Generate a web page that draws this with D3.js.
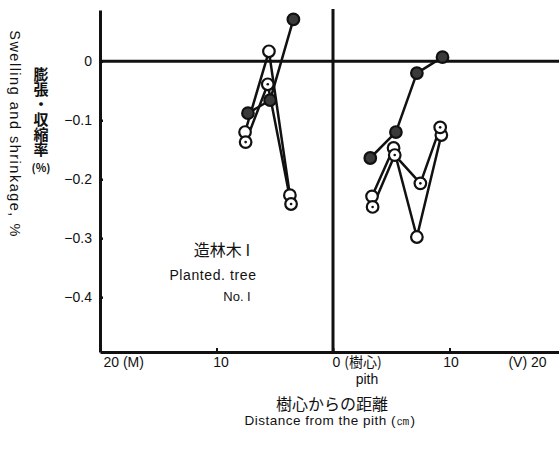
<!DOCTYPE html>
<html>
<head>
<meta charset="utf-8">
<script src="https://cdn.jsdelivr.net/npm/d3@7"></script>
<style>
  body { margin: 0; background: #fff; }
  text { font-family: "Liberation Sans", Arial, sans-serif; fill: #111; }
  .jp { font-family: "Noto Sans CJK JP", sans-serif; }
</style>
</head>
<body>
<div id="chart"></div>
<script>
// distance from pith (cm); M side is drawn to the left, V side to the right
const mDistFilled = [7.3, 5.4, 3.4];
const mDistOpen   = [7.55, 5.5, 3.7];
const mDistDotted = [7.5, 5.6, 3.6];
const mFilled = [-0.088, -0.066, 0.071];
const mOpen   = [-0.12, 0.017, -0.227];
const mDotted = [-0.137, -0.039, -0.242];

const vDistFilled = [3.2, 5.4, 7.2, 9.4];
const vDistOpen   = [3.35, 5.2, 7.2, 9.3];
const vDistDotted = [3.4, 5.3, 7.5, 9.2];
const vFilled = [-0.164, -0.12, -0.02, 0.007];
const vOpen   = [-0.229, -0.147, -0.298, -0.125];
const vDotted = [-0.247, -0.159, -0.207, -0.112];

const yTicks = [0, -0.1, -0.2, -0.3, -0.4];
const xTicks = [-20, -10, 0, 10, 20];
const xTickLabels = ["20 (M)", "10", "0 (樹心)", "10", "(V) 20"];

const width = 559, height = 452;

const svg = d3.select("#chart").append("svg")
  .attr("width", width)
  .attr("height", height);

const x = d3.scaleLinear().domain([-20, 20]).range([100, 566]);
const y = d3.scaleLinear().domain([0.087, -0.493]).range([10, 352]);

// axes
const yAxis = svg.append("g")
  .attr("transform", `translate(${x(-20)},0)`)
  .call(d3.axisLeft(y).tickValues(yTicks).tickSizeInner(-3).tickSizeOuter(0).tickPadding(8)
    .tickFormat(d => d === 0 ? "0" : "−" + d3.format(".1f")(-d)));
yAxis.select(".domain").attr("stroke", "#111").attr("stroke-width", 3);
yAxis.selectAll(".tick line").attr("stroke", "#111").attr("stroke-width", 2.5);
yAxis.selectAll("text").style("font-size", "14px").attr("font-family", "Liberation Sans").attr("fill", "#111");

const xAxis = svg.append("g")
  .attr("transform", `translate(0,${y.range()[1]})`)
  .call(d3.axisBottom(x).tickValues(xTicks).tickSizeInner(-4).tickSizeOuter(0).tickPadding(5)
    .tickFormat((d, i) => xTickLabels[i]));
xAxis.select(".domain").attr("stroke", "#111").attr("stroke-width", 3);
xAxis.selectAll(".tick line").attr("stroke", "#111").attr("stroke-width", 2);
xAxis.selectAll("text")
  .style("font-size", "14px")
  .attr("fill", "#111")
  .attr("text-anchor", d => d === -20 || d === 0 ? "start" : d === 20 ? "end" : "middle")
  .attr("dx", d => d === -20 ? 3 : d === 20 ? -20 : d === -10 ? 4 : d === 0 ? -1 : 1);
xAxis.selectAll("text").filter(d => d === 0)
  .each(function() {
    const t = d3.select(this);
    t.text(null);
    t.append("tspan").text("0 ");
    t.append("tspan").attr("class", "jp").style("font-size", "14px").text("(樹心)");
  });

// zero line and pith line
svg.append("line")
  .attr("x1", x(-20)).attr("x2", width)
  .attr("y1", y(0)).attr("y2", y(0))
  .attr("stroke", "#111").attr("stroke-width", 3);
svg.append("line")
  .attr("x1", x(0)).attr("x2", x(0))
  .attr("y1", 9).attr("y2", y.range()[1])
  .attr("stroke", "#111").attr("stroke-width", 3);

// series
const series = [
  { dist: mDistFilled.map(d => -d), val: mFilled, kind: "filled" },
  { dist: mDistOpen.map(d => -d), val: mOpen, kind: "open" },
  { dist: mDistDotted.map(d => -d), val: mDotted, kind: "dotted" },
  { dist: vDistFilled, val: vFilled, kind: "filled" },
  { dist: vDistOpen, val: vOpen, kind: "open" },
  { dist: vDistDotted, val: vDotted, kind: "dotted" }
];

const line = d3.line().x(d => x(d[0])).y(d => y(d[1]));

series.forEach(s => {
  const pts = s.dist.map((d, i) => [d, s.val[i]]);
  svg.append("path")
    .attr("d", line(pts))
    .attr("fill", "none")
    .attr("stroke", "#111")
    .attr("stroke-width", 2.5);
});

series.forEach(s => {
  const pts = s.dist.map((d, i) => [d, s.val[i]]);
  const g = svg.append("g");
  g.selectAll("circle")
    .data(pts)
    .enter().append("circle")
    .attr("cx", d => x(d[0]))
    .attr("cy", d => y(d[1]))
    .attr("r", 5.8)
    .attr("fill", s.kind === "filled" ? "#3a3a3a" : "#fff")
    .attr("stroke", "#111")
    .attr("stroke-width", 2.2);
  if (s.kind === "dotted") {
    g.selectAll(".dot")
      .data(pts)
      .enter().append("circle")
      .attr("cx", d => x(d[0]))
      .attr("cy", d => y(d[1]))
      .attr("r", 1.3)
      .attr("fill", "#111");
  }
});

// annotation
svg.append("text").attr("class", "jp").attr("x", 222).attr("y", 256)
  .attr("text-anchor", "middle").style("font-size", "16px").text("造林木 I");
svg.append("text").attr("x", 213).attr("y", 280)
  .attr("text-anchor", "middle").style("font-size", "14px").style("letter-spacing", "0.6px").text("Planted. tree");
svg.append("text").attr("x", 237).attr("y", 301)
  .attr("text-anchor", "middle").style("font-size", "13px").text("No. I");

// axis titles
svg.append("text").attr("x", 367).attr("y", 384)
  .attr("text-anchor", "middle").style("font-size", "14px").text("pith");
svg.append("text").attr("class", "jp").attr("x", 332).attr("y", 410)
  .attr("text-anchor", "middle").style("font-size", "16px").text("樹心からの距離");
svg.append("text").attr("x", 330).attr("y", 425)
  .attr("text-anchor", "middle").style("font-size", "13.5px").style("letter-spacing", "0.5px")
  .text("Distance from the pith (㎝)");

svg.append("text")
  .attr("transform", "translate(10,134) rotate(90)")
  .attr("text-anchor", "middle")
  .style("font-size", "14.5px")
  .style("letter-spacing", "1.5px")
  .text("Swelling and shrinkage, %");

// vertical Japanese title
svg.append("text")
  .attr("class", "jp")
  .attr("x", 41)
  .attr("y", 67)
  .style("writing-mode", "vertical-rl")
  .style("font-size", "15px")
  .style("font-weight", "bold")
  .text("膨張・収縮率");
svg.append("text")
  .attr("class", "jp")
  .attr("x", 41)
  .attr("y", 172)
  .attr("text-anchor", "middle")
  .style("font-size", "11px")
  .style("font-weight", "bold")
  .text("(%)");
</script>
</body>
</html>
